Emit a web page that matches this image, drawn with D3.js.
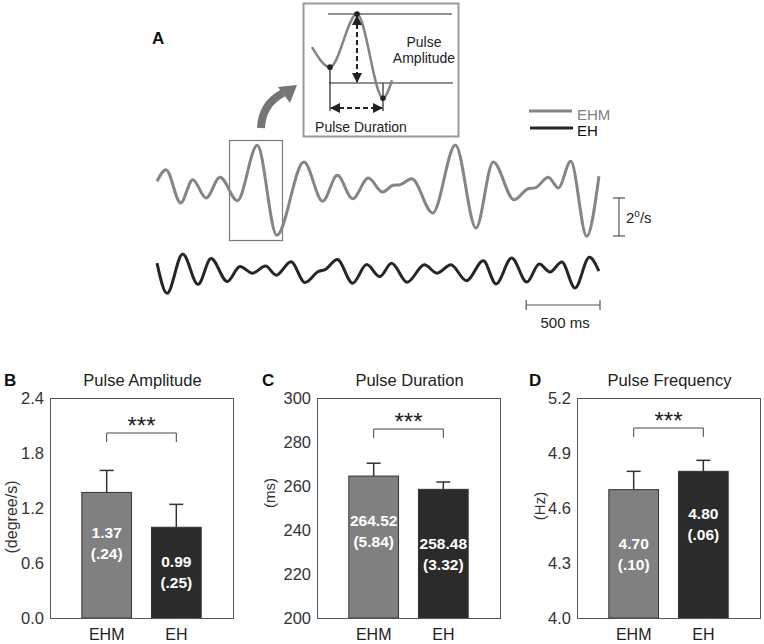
<!DOCTYPE html>
<html><head><meta charset="utf-8">
<script src="https://cdn.jsdelivr.net/npm/d3@7"></script>
<style>
html,body{margin:0;padding:0;background:#fff;}
text{font-family:"Liberation Sans",Arial,sans-serif;}
</style></head>
<body>
<svg id="chart" width="764" height="644"></svg>
<script>
// ---------- DATA ----------
// Panel A: example eye-velocity traces (time in ms, velocity in deg/s, relative)
const waveT_EHM = [0,61,160,242,332,427,544,679,811,995,1122,1221,1325,1431,1528,1600,1646,1725,1867,2021,2160,2277,2418,2514,2560,2650,2718,2802,2910,2993];
const waveV_EHM = [0.46,1.07,-0.68,0.54,-0.42,0.67,-0.56,2.35,-2.38,1.47,-0.59,0.77,-0.46,0.63,-0.11,0.25,0.28,0.59,-1.21,2.37,-2.0,1.47,-0.51,0.07,0.11,0.67,0.11,1.51,-2.44,0.72];
const waveT_EH = [0,68,174,278,366,476,562,647,735,808,907,1002,1094,1138,1221,1325,1420,1508,1589,1694,1811,1897,1990,2095,2210,2296,2402,2504,2589,2661,2741,2831,2928,2993];
const waveV_EH = [0.47,-1.12,0.95,-0.65,0.71,-0.5,0.29,-0.06,0.31,-0.17,0.54,-0.55,0.03,0.13,0.66,-0.59,0.39,-0.24,0.46,-0.54,0.38,-0.06,0.38,-0.46,0.59,-0.63,0.74,-0.53,0.42,0,0.53,-0.84,0.77,0.04];
// Inset schematic pulse (relative units)
const insetT = [0,22.5,56.25,88.75,100];
const insetV = [0.52,0.23,1,-0.22,0.04];

// Panels B-D
const groups = ["EHM","EH"];
const panelTitles = ["Pulse Amplitude","Pulse Duration","Pulse Frequency"];
const panelLetters = ["B","C","D"];
const axisTitles = ["(degree/s)","(ms)","(Hz)"];
const amplitudeMean = [1.37,0.99];
const amplitudeSD = [0.24,0.25];
const durationMean = [264.52,258.48];
const durationSD = [5.84,3.32];
const frequencyMean = [4.70,4.80];
const frequencySD = [0.10,0.06];
const amplitudeTicks = [0.0,0.6,1.2,1.8,2.4];
const durationTicks = [200,220,240,260,280,300];
const frequencyTicks = [4.0,4.3,4.6,4.9,5.2];
const meanLabels = [["1.37","0.99"],["264.52","258.48"],["4.70","4.80"]];
const sdLabels = [["(.24)","(.25)"],["(5.84)","(3.32)"],["(.10)","(.06)"]];

// ---------- STYLE / LAYOUT ----------
const GRAY = "#858585", DARK = "#262626";
const svg = d3.select("#chart");

// ---------- PANEL A ----------
svg.append("text").attr("x",152).attr("y",44).attr("font-size",17).attr("font-weight","bold").attr("fill","#111").text("A");

const xWave = d3.scaleLinear().domain([0,3000]).range([157,600]);
const pxPerDeg = 19;
const yEHM = d3.scaleLinear().domain([-1,1]).range([190+pxPerDeg,190-pxPerDeg]);
const yEH = d3.scaleLinear().domain([-1,1]).range([272+pxPerDeg,272-pxPerDeg]);

// selection rectangle
svg.append("rect").attr("x",229.5).attr("y",140.5).attr("width",53).attr("height",100)
  .attr("fill","none").attr("stroke","#7a7a7a").attr("stroke-width",1.2);

const lineEHM = d3.line().x((d,i)=>xWave(waveT_EHM[i])).y(d=>yEHM(d)).curve(d3.curveMonotoneX);
const lineEH = d3.line().x((d,i)=>xWave(waveT_EH[i])).y(d=>yEH(d)).curve(d3.curveMonotoneX);
svg.append("path").attr("d",lineEHM(waveV_EHM)).attr("fill","none").attr("stroke",GRAY).attr("stroke-width",3).attr("stroke-linejoin","round");
svg.append("path").attr("d",lineEH(waveV_EH)).attr("fill","none").attr("stroke",DARK).attr("stroke-width",3).attr("stroke-linejoin","round");

// legend
svg.append("line").attr("x1",529).attr("x2",572).attr("y1",111).attr("y2",111).attr("stroke",GRAY).attr("stroke-width",3);
svg.append("line").attr("x1",530).attr("x2",573).attr("y1",128).attr("y2",128).attr("stroke",DARK).attr("stroke-width",3);
svg.append("text").attr("x",577).attr("y",120).attr("font-size",15).attr("fill","#808080").text("EHM");
svg.append("text").attr("x",577).attr("y",136).attr("font-size",15).attr("fill","#111").text("EH");

// 2 deg/s scale bar
const sb = svg.append("g").attr("stroke","#555").attr("stroke-width",1.2);
const yTop = yEHM(-0.42), yBot = yEHM(-2.42);
sb.append("line").attr("x1",619).attr("x2",619).attr("y1",yTop).attr("y2",yBot);
sb.append("line").attr("x1",613).attr("x2",625).attr("y1",yTop).attr("y2",yTop);
sb.append("line").attr("x1",613).attr("x2",625).attr("y1",yBot).attr("y2",yBot);
const t2 = svg.append("text").attr("x",626).attr("y",223).attr("font-size",15).attr("fill","#222");
t2.append("tspan").text("2");
t2.append("tspan").attr("font-size",10).attr("dy",-6).text("o");
t2.append("tspan").attr("dy",6).text("/s");

// 500 ms scale bar
const ms = svg.append("g").attr("stroke","#555").attr("stroke-width",1.2);
ms.append("line").attr("x1",xWave(2500)).attr("x2",xWave(3000)).attr("y1",305).attr("y2",305);
ms.append("line").attr("x1",xWave(2500)).attr("x2",xWave(2500)).attr("y1",300).attr("y2",310);
ms.append("line").attr("x1",xWave(3000)).attr("x2",xWave(3000)).attr("y1",300).attr("y2",310);
svg.append("text").attr("x",(xWave(2500)+xWave(3000))/2+2).attr("y",328).attr("text-anchor","middle").attr("font-size",15).attr("fill","#222").text("500 ms");

// curved arrow
svg.append("path").attr("d","M261,128 Q262,104 283,93").attr("fill","none").attr("stroke","#757575").attr("stroke-width",8);
svg.append("path").attr("d","M297,85 L278,87 L290,103 Z").attr("fill","#757575");

// inset
svg.append("rect").attr("x",303.5).attr("y",3.5).attr("width",155).attr("height",133)
  .attr("fill","#fff").attr("stroke","#9a9a9a").attr("stroke-width",2);
const ix = d3.scaleLinear().domain([0,100]).range([312,392]);
const iy = d3.scaleLinear().domain([0,1]).range([83,14]);
svg.append("line").attr("x1",328).attr("x2",452).attr("y1",iy(1)).attr("y2",iy(1)).attr("stroke","#222").attr("stroke-width",1.2);
svg.append("line").attr("x1",329).attr("x2",453).attr("y1",iy(0)).attr("y2",iy(0)).attr("stroke","#222").attr("stroke-width",1.2);
const insetLine = d3.line().x((d,i)=>ix(insetT[i])).y(d=>iy(d)).curve(d3.curveMonotoneX);
svg.append("path").attr("d",insetLine(insetV)).attr("fill","none").attr("stroke",GRAY).attr("stroke-width",2.5);
svg.append("line").attr("x1",ix(insetT[1])).attr("x2",ix(insetT[1])).attr("y1",iy(insetV[1])).attr("y2",111).attr("stroke","#222").attr("stroke-width",1.2);
svg.append("line").attr("x1",ix(insetT[3])).attr("x2",ix(insetT[3])).attr("y1",iy(0)).attr("y2",111).attr("stroke","#222").attr("stroke-width",1.2);
[1,2,3].forEach(i=>{
  svg.append("circle").attr("cx",ix(insetT[i])).attr("cy",iy(insetV[i])).attr("r",2.8).attr("fill","#222");
});
const defs = svg.append("defs");
defs.append("marker").attr("id","ah").attr("viewBox","0 0 10 10").attr("refX",9).attr("refY",5)
  .attr("markerWidth",5).attr("markerHeight",5).attr("orient","auto-start-reverse")
  .append("path").attr("d","M0,0 L10,5 L0,10 Z").attr("fill","#222");
svg.append("line").attr("x1",ix(insetT[2])).attr("x2",ix(insetT[2])).attr("y1",iy(1)+2).attr("y2",iy(0)-1)
  .attr("stroke","#222").attr("stroke-width",2).attr("stroke-dasharray","5,3")
  .attr("marker-start","url(#ah)").attr("marker-end","url(#ah)");
svg.append("line").attr("x1",ix(insetT[1])+1).attr("x2",ix(insetT[3])-1).attr("y1",108).attr("y2",108)
  .attr("stroke","#222").attr("stroke-width",2).attr("stroke-dasharray","5,3")
  .attr("marker-start","url(#ah)").attr("marker-end","url(#ah)");
svg.append("text").attr("x",424).attr("y",47).attr("text-anchor","middle").attr("font-size",14).attr("fill","#222").text("Pulse");
svg.append("text").attr("x",424).attr("y",63).attr("text-anchor","middle").attr("font-size",14).attr("fill","#222").text("Amplitude");
svg.append("text").attr("x",361).attr("y",132).attr("text-anchor","middle").attr("font-size",14).attr("fill","#222").text("Pulse Duration");

// ---------- PANELS B-D ----------
const panels = [
  {means:amplitudeMean, sds:amplitudeSD, ticks:amplitudeTicks, fmt:d3.format(".1f"), left:50, letterX:4, axX:12, axY:517, axFont:16, labelFrac:[0.40,0.49], brk:35},
  {means:durationMean, sds:durationSD, ticks:durationTicks, fmt:d3.format("d"), left:317, letterX:262, axX:270, axY:493, axFont:15, labelFrac:[0.39,0.50], brk:31},
  {means:frequencyMean, sds:frequencySD, ticks:frequencyTicks, fmt:d3.format(".1f"), left:577, letterX:529, axX:540, axY:506, axFont:15, labelFrac:[0.50,0.36], brk:30}
];
const topY = 398, bottomY = 618, W = 183;
const fills = ["#808080","#2b2b2b"];

panels.forEach((p,k)=>{
  const g = svg.append("g");
  const y = d3.scaleLinear().domain([p.ticks[0], p.ticks[p.ticks.length-1]]).range([bottomY, topY]);
  const x = d3.scaleBand().domain(groups).range([p.left, p.left+W]).paddingInner(0.286).paddingOuter(0.457);
  groups.forEach((gname,i)=>{
    const bx = x(gname), bw = x.bandwidth();
    g.append("rect").attr("x",bx).attr("y",y(p.means[i])).attr("width",bw).attr("height",bottomY-y(p.means[i]))
      .attr("fill",fills[i]).attr("stroke","#333").attr("stroke-width",1);
    const cx = bx + bw/2;
    g.append("line").attr("x1",cx).attr("x2",cx).attr("y1",y(p.means[i])).attr("y2",y(p.means[i]+p.sds[i])).attr("stroke","#333").attr("stroke-width",1.5);
    g.append("line").attr("x1",cx-7).attr("x2",cx+7).attr("y1",y(p.means[i]+p.sds[i])).attr("y2",y(p.means[i]+p.sds[i])).attr("stroke","#333").attr("stroke-width",1.5);
    const yc = y(p.means[i]) + p.labelFrac[i]*(bottomY - y(p.means[i]));
    g.append("text").attr("x",cx).attr("y",yc-5).attr("text-anchor","middle").attr("font-size",15.5).attr("font-weight","bold").attr("fill","#fff").text(meanLabels[k][i]);
    g.append("text").attr("x",cx).attr("y",yc+16).attr("text-anchor","middle").attr("font-size",15.5).attr("font-weight","bold").attr("fill","#fff").text(sdLabels[k][i]);
  });
  g.append("rect").attr("x",p.left+0.5).attr("y",topY+0.5).attr("width",W).attr("height",bottomY-topY)
    .attr("fill","none").attr("stroke","#555").attr("stroke-width",1);
  const ax = g.append("g").attr("transform",`translate(${p.left},0)`)
    .call(d3.axisLeft(y).tickValues(p.ticks).tickFormat(p.fmt).tickSize(0).tickPadding(6));
  ax.select(".domain").remove();
  ax.selectAll("text").attr("font-size",16.5).attr("fill","#333").attr("font-family","Liberation Sans, Arial, sans-serif");
  const xa = g.append("g").attr("transform",`translate(0,${bottomY})`)
    .call(d3.axisBottom(x).tickSize(0).tickPadding(11));
  xa.select(".domain").remove();
  xa.selectAll("text").attr("font-size",16).attr("fill","#222").attr("font-family","Liberation Sans, Arial, sans-serif");
  g.append("text").attr("x",p.left+W/2+1).attr("y",386).attr("text-anchor","middle").attr("font-size",16.5).attr("fill","#222").text(panelTitles[k]);
  g.append("text").attr("x",p.letterX).attr("y",386).attr("font-size",17).attr("font-weight","bold").attr("fill","#111").text(panelLetters[k]);
  g.append("text").attr("transform",`translate(${p.axX+5},${p.axY}) rotate(-90)`).attr("text-anchor","middle").attr("font-size",p.axFont).attr("fill","#333").text(axisTitles[k]);
  const x1 = x(groups[0]) + x.bandwidth()/2, x2 = x(groups[1]) + x.bandwidth()/2;
  const by = topY + p.brk;
  g.append("path").attr("d",`M${x1},${by+9} L${x1},${by} L${x2},${by} L${x2},${by+9}`).attr("fill","none").attr("stroke","#444").attr("stroke-width",1);
  g.append("text").attr("x",(x1+x2)/2).attr("y",by+1).attr("text-anchor","middle").attr("font-size",24).attr("fill","#222").text("***");
});
</script>
</body></html>
